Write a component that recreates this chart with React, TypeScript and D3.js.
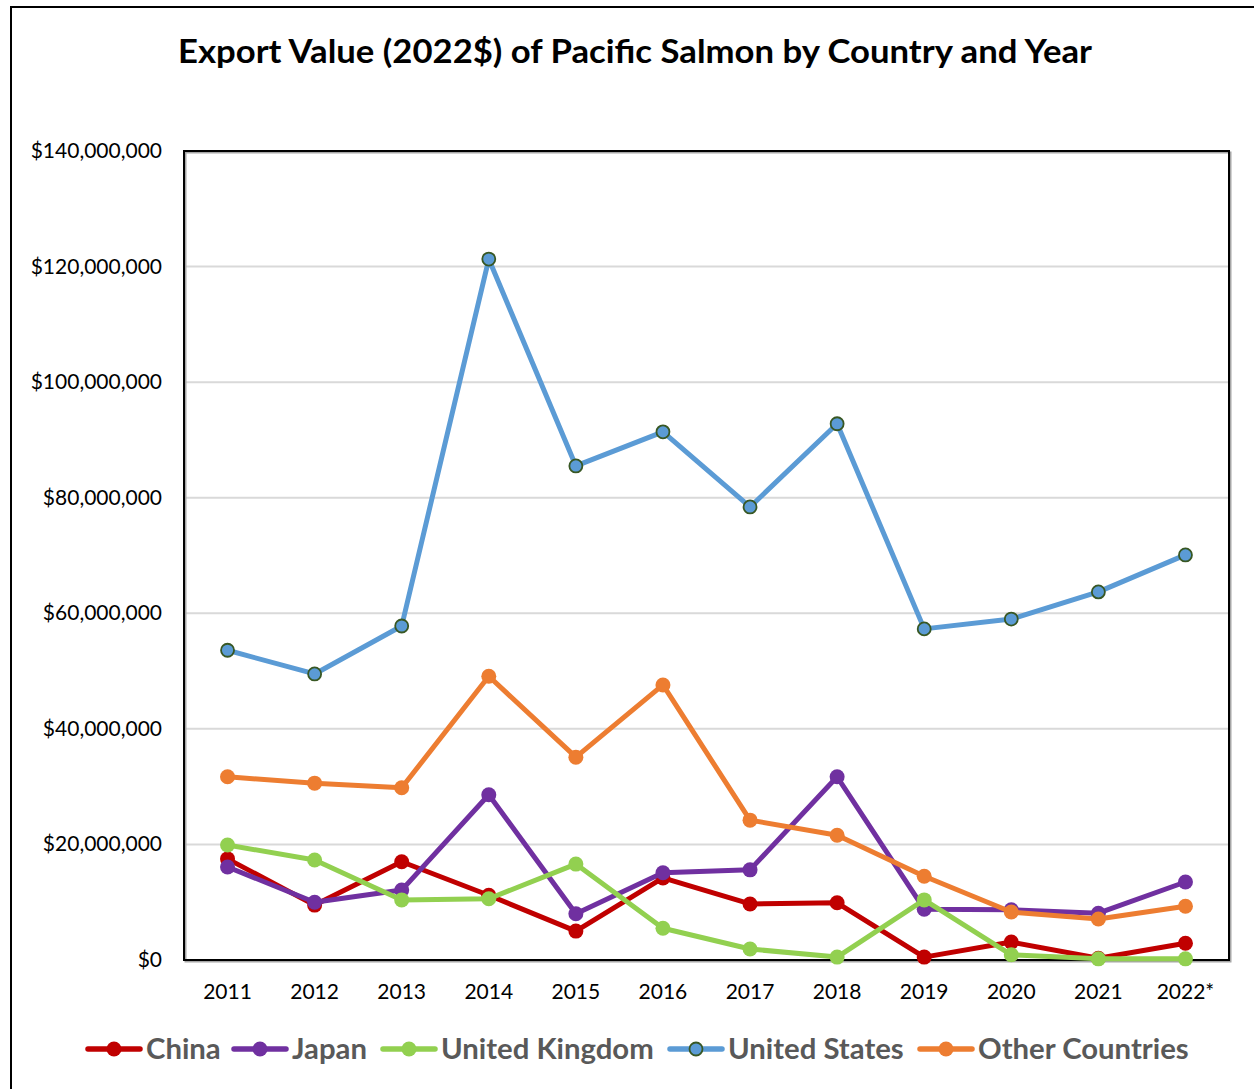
import React from "react";
import * as d3 from "d3";

const years = ["2011","2012","2013","2014","2015","2016","2017","2018","2019","2020","2021","2022*"];
const china = [17.5, 9.5, 17.0, 11.2, 5.0, 14.2, 9.7, 9.9, 0.5, 3.1, 0.3, 2.9];
const japan = [16.1, 10.0, 12.1, 28.6, 8.0, 15.1, 15.6, 31.7, 8.8, 8.7, 8.1, 13.5];
const uk = [19.9, 17.3, 10.4, 10.6, 16.6, 5.5, 1.9, 0.5, 10.4, 0.9, 0.2, 0.2];
const us = [53.6, 49.5, 57.8, 121.3, 85.5, 91.4, 78.4, 92.8, 57.3, 59.0, 63.7, 70.1];
const other = [31.7, 30.6, 29.8, 49.1, 35.1, 47.6, 24.2, 21.6, 14.5, 8.3, 7.1, 9.3];
const yTicks = [0, 20, 40, 60, 80, 100, 120, 140];

const series = [
  { name: "China", values: china, color: "#C00000", stroke: "#C00000", r: 7.5 },
  { name: "Japan", values: japan, color: "#7030A0", stroke: "#7030A0", r: 7.5 },
  { name: "United Kingdom", values: uk, color: "#92D050", stroke: "#92D050", r: 7.5 },
  { name: "United States", values: us, color: "#5B9BD5", stroke: "#385723", r: 6.5 },
  { name: "Other Countries", values: other, color: "#ED7D31", stroke: "#ED7D31", r: 7.5 },
];

const FONT = "Lato, 'Open Sans', sans-serif";

export default function App() {
  const W = 1254, H = 1089;
  const left = 184, right = 1229, top = 151, bottom = 960;
  const x = d3.scaleBand().domain(years).range([left, right]);
  const y = d3.scaleLinear().domain([0, 140]).range([bottom, top]);
  const line = d3.line<number>()
    .x((_, i) => (x(years[i]) as number) + x.bandwidth() / 2)
    .y((d) => y(d));
  const fmt = (v: number) => "$" + d3.format(",")(v * 1000000);

  const legendItems = [
    { x: 88, tx: 146 },
    { x: 234, tx: 292 },
    { x: 383, tx: 441 },
    { x: 670, tx: 728 },
    { x: 920, tx: 978 },
  ];

  return (
    <svg width={W} height={H} style={{ position: "absolute", left: 0, top: 0 }}>
      <style>{"body{margin:0}"}</style>
      <rect x={0} y={0} width={W} height={H} fill="#fff" />
      <path d={`M11,${H + 5} V7 H${W + 5}`} fill="none" stroke="#000" strokeWidth={2} />
      <text x={178} y={63} textLength={914} lengthAdjust="spacingAndGlyphs" fontFamily={FONT} fontWeight={700} fontSize={33} fill="#000">
        Export Value (2022$) of Pacific Salmon by Country and Year
      </text>
      {yTicks.map((t) => (
        <g key={t}>
          {t > 0 && t < 140 && (
            <line x1={left} x2={right} y1={y(t)} y2={y(t)} stroke="#D9D9D9" strokeWidth={2} />
          )}
          <text x={162} y={y(t) + 7} textAnchor="end" fontFamily={FONT} fontSize={21} fill="#000">
            {fmt(t)}
          </text>
        </g>
      ))}
      <rect x={left + 1.5} y={top + 1.5} width={right - left} height={bottom - top} fill="none" stroke="#A6A6A6" strokeWidth={2} />
      <rect x={left} y={top} width={right - left} height={bottom - top} fill="none" stroke="#000" strokeWidth={2} />
      {years.map((yr) => (
        <text key={yr} x={(x(yr) as number) + x.bandwidth() / 2} y={999} textAnchor="middle" fontFamily={FONT} fontSize={21} fill="#000">
          {yr}
        </text>
      ))}
      {series.map((s) => (
        <g key={s.name}>
          <path d={line(s.values) || ""} fill="none" stroke={s.color} strokeWidth={5} strokeLinejoin="round" />
          {s.values.map((v, i) => (
            <circle key={i} cx={(x(years[i]) as number) + x.bandwidth() / 2} cy={y(v)} r={s.r} fill={s.color}
              stroke={s.stroke} strokeWidth={s.name === "United States" ? 1.8 : 0} />
          ))}
        </g>
      ))}
      {series.map((s, i) => {
        const it = legendItems[i];
        return (
          <g key={s.name}>
            <line x1={it.x} x2={it.x + 52} y1={1049} y2={1049} stroke={s.color} strokeWidth={5.5} strokeLinecap="round" />
            <circle cx={it.x + 26} cy={1049} r={s.r} fill={s.color} stroke={s.stroke} strokeWidth={s.name === "United States" ? 1.8 : 0} />
            <text x={it.tx} y={1059} fontFamily={FONT} fontWeight={700} fontSize={29.3} fill="#595959">
              {s.name}
            </text>
          </g>
        );
      })}
    </svg>
  );
}
